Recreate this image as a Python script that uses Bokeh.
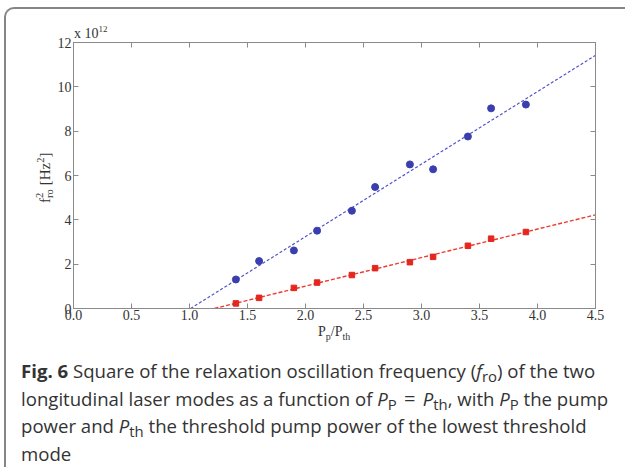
import numpy as np
from bokeh.plotting import figure
from bokeh.models import LinearAxis, FixedTicker, Range1d, Div, PrintfTickFormatter, CustomJSTickFormatter
from bokeh.layouts import column
from bokeh.embed import file_html
from bokeh.resources import INLINE

# ---- data ----
pump_ratio = [1.4, 1.6, 1.9, 2.1, 2.4, 2.6, 2.9, 3.1, 3.4, 3.6, 3.9]
mode_a_f2 = [1.31, 2.14, 2.62, 3.51, 4.41, 5.48, 6.50, 6.28, 7.76, 9.03, 9.20]   # x 10^12 Hz^2
mode_b_f2 = [0.23, 0.48, 0.93, 1.17, 1.51, 1.82, 2.09, 2.33, 2.83, 3.15, 3.45]   # x 10^12 Hz^2
x_ticks = [0.0, 0.5, 1.0, 1.5, 2.0, 2.5, 3.0, 3.5, 4.0, 4.5]
y_ticks = [0, 2, 4, 6, 8, 10, 12]
x_limits = [0.0, 4.5]
y_limits = [0, 12]

BLUE = "#3a3eae"
BLUE_LINE = "#5254cc"
RED = "#e3261e"
RED_LINE = "#ee3a30"
GRAY = "#8a8a8a"
TXT = "#333333"
SERIF = "Liberation Serif"

W, H = 625, 357
p = figure(width=W, height=H, output_backend="svg", toolbar_location=None,
           x_range=Range1d(*x_limits), y_range=Range1d(*y_limits),
           min_border_left=73, min_border_right=30, min_border_top=42, min_border_bottom=49)
p.grid.visible = False
p.outline_line_color = GRAY
p.outline_line_width = 1
p.background_fill_color = "white"
p.border_fill_color = "white"

def style_axis(ax, ticks, fmt, show_labels=True):
    ax.ticker = FixedTicker(ticks=ticks)
    ax.formatter = PrintfTickFormatter(format=fmt) if show_labels else CustomJSTickFormatter(code="return ''")
    ax.axis_line_color = GRAY
    ax.major_tick_line_color = GRAY
    ax.major_tick_in = 5
    ax.major_tick_out = 0
    ax.minor_tick_line_color = None
    ax.major_label_text_font = SERIF
    ax.major_label_text_color = TXT
    ax.major_label_text_font_size = "14px"
    ax.major_label_standoff = 1 if show_labels else 0

style_axis(p.xaxis[0], x_ticks, "%.1f")
style_axis(p.yaxis[0], y_ticks, "%d")
p.yaxis[0].major_label_standoff = 2
top_ax = LinearAxis()
right_ax = LinearAxis()
style_axis(top_ax, x_ticks, "%.1f", show_labels=False)
style_axis(right_ax, y_ticks, "%d", show_labels=False)
p.add_layout(top_ax, "above")
p.add_layout(right_ax, "right")

# ---- least-squares fit lines computed from the data ----
def fit_line(x, y):
    k, b = np.polyfit(np.array(x), np.array(y), 1)
    xs = np.array([-b / k, x_limits[1]])
    return xs, k * xs + b

fa_x, fa_y = fit_line(pump_ratio, mode_a_f2)
fb_x, fb_y = fit_line(pump_ratio, mode_b_f2)
p.line(fa_x, fa_y, line_color=BLUE_LINE, line_width=1.2, line_dash="3 2")
p.line(fb_x, fb_y, line_color=RED_LINE, line_width=1.4, line_dash="4 2")
p.scatter(pump_ratio, mode_a_f2, marker="circle", size=7, fill_color=BLUE, line_color=BLUE)
p.scatter(pump_ratio, mode_b_f2, marker="square", size=5.5, fill_color=RED, line_color=RED)

# ---- HTML overlay: axis labels, exponent, frame border, caption ----
# overlay coordinates are relative to the caption block's top-left (page x=0, y=H)
def ov(left, top, size, inner, extra=""):
    return (f'<div style="position:absolute;left:{left}px;top:{top}px;font-family:\'{SERIF}\';'
            f'font-size:{size}px;line-height:{size}px;color:{TXT};white-space:nowrap;{extra}">{inner}</div>')

def sp(t, shift=6, size=10.5):
    return f'<span style="font-size:{size}px;vertical-align:{shift}px;line-height:0">{t}</span>'

def sb(t, shift=-4, size=10.5):
    return f'<span style="font-size:{size}px;vertical-align:{shift}px;line-height:0">{t}</span>'

stack = ('<span style="display:inline-block;position:relative;width:9px;height:1px">'
         '<span style="position:absolute;left:0;bottom:4.3px;font-size:10.5px;line-height:1">2</span>'
         '<span style="position:absolute;left:0;bottom:-5.7px;font-size:10.5px;line-height:1">ro</span>'
         '</span>')

x_label = ov(318, -32.2, 14, "P" + sb("p", -4, 10) + "/P" + sb("th", -4, 10))
y_label = ov(38.4, -154, 15, "f" + stack + " [Hz" + sp("2") + "]",
             "transform:rotate(-90deg);transform-origin:left top;")
exponent = ov(74, -329.7, 14, "x 10" + sp("12", 6, 9))
border = ('<div style="position:absolute;left:4px;top:-350px;width:621px;height:460px;box-sizing:border-box;'
          'border-left:2px solid #858585;border-top:2px solid #858585;border-top-left-radius:10px;"></div>')

sub = '<span style="font-size:0.8em;vertical-align:-0.28em;line-height:0">'
eq = '<span style="margin:0 0.36em;font-size:1.08em;line-height:0">=</span>'
caption = (
    '<div style="font-family:\'Open Sans\';font-size:18.6px;line-height:27.5px;color:#333;'
    'padding-left:21px;padding-top:0px;white-space:nowrap">'
    '<b>Fig. 6</b> Square of the relaxation oscillation frequency (<i>f</i>' + sub + 'ro</span>) of the two<br>'
    'longitudinal laser modes as a function of <i>P</i>' + sub + 'P</span>'
    + eq + '<i>P</i>' + sub + 'th</span>, with <i>P</i>' + sub + 'P</span> the pump<br>'
    'power and <i>P</i>' + sub + 'th</span> the threshold pump power of the lowest threshold<br>'
    'mode</div>'
)

html = ('<div style="position:relative;width:610px;height:108px">'
        + border + x_label + y_label + exponent + caption + '</div>')
div = Div(text=html, width=W, height=469 - H, margin=0)

layout = column(p, div, spacing=0, margin=0)
open("out.html", "w").write(file_html(layout, INLINE))
